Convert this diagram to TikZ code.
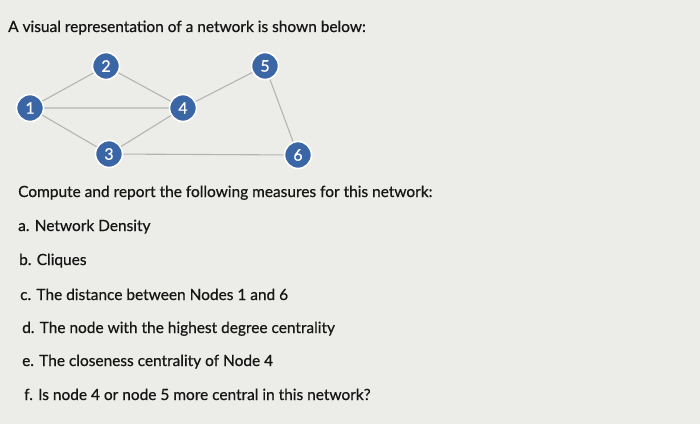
\documentclass[tikz,border=0pt]{standalone}
\usepackage{fontspec}
\setmainfont{Lato}
\newfontfamily\medfont{Lato}[UprightFeatures={FakeBold=0.6}]
\definecolor{bg}{HTML}{ECECE9}
\definecolor{nodeblue}{HTML}{3B66A6}
\definecolor{edgegray}{HTML}{B4B4B2}
\definecolor{txt}{HTML}{161616}
\begin{document}
\begin{tikzpicture}[x=1bp,y=1bp,
  vert/.style={circle,fill=nodeblue,draw=white,line width=1.6bp,minimum size=27bp,inner sep=0pt,text=white,font=\medfont\fontsize{16}{16}\selectfont},
  edge/.style={draw=edgegray,line width=1.1bp},
  line/.style={anchor=base west,inner sep=0pt,text=txt,font=\medfont\fontsize{15.5}{17}\selectfont}]
\fill[bg] (0,0) rectangle (700,424);
\useasboundingbox (0,0) rectangle (700,424);
\node[line] (t) at (8,{424-32}) {A visual representation of a network is shown below:};
\coordinate (p1) at (30,{424-108});
\coordinate (p2) at (106,{424-66});
\coordinate (p3) at (109,{424-154});
\coordinate (p4) at (183,{424-108});
\coordinate (p5) at (265,{424-66});
\coordinate (p6) at (298,{424-155});
\draw[edge] (p1)--(p2) (p1)--(p4) (p1)--(p3) (p2)--(p4) (p3)--(p4) (p4)--(p5) (p5)--(p6) (p3)--(p6);
\node[vert] (n1) at (p1) {1};
\node[vert] (n2) at (p2) {2};
\node[vert] (n3) at (p3) {3};
\node[vert] (n4) at (p4) {4};
\node[vert] (n5) at (p5) {5};
\node[vert] (n6) at (p6) {6};
\node[line] (q) at (18,{424-197}) {Compute and report the following measures for this network:};
\node[line] (a) at (18,{424-231}) {a. Network Density};
\node[line] (b) at (19,{424-265}) {b. Cliques};
\node[line] (c) at (20,{424-300}) {c. The distance between Nodes 1 and 6};
\node[line] (d) at (22,{424-333}) {d. The node with the highest degree centrality};
\node[line] (e) at (22,{424-366}) {e. The closeness centrality of Node 4};
\node[line] (f) at (24,{424-400}) {f. Is node 4 or node 5 more central in this network?};
\end{tikzpicture}
\end{document}
